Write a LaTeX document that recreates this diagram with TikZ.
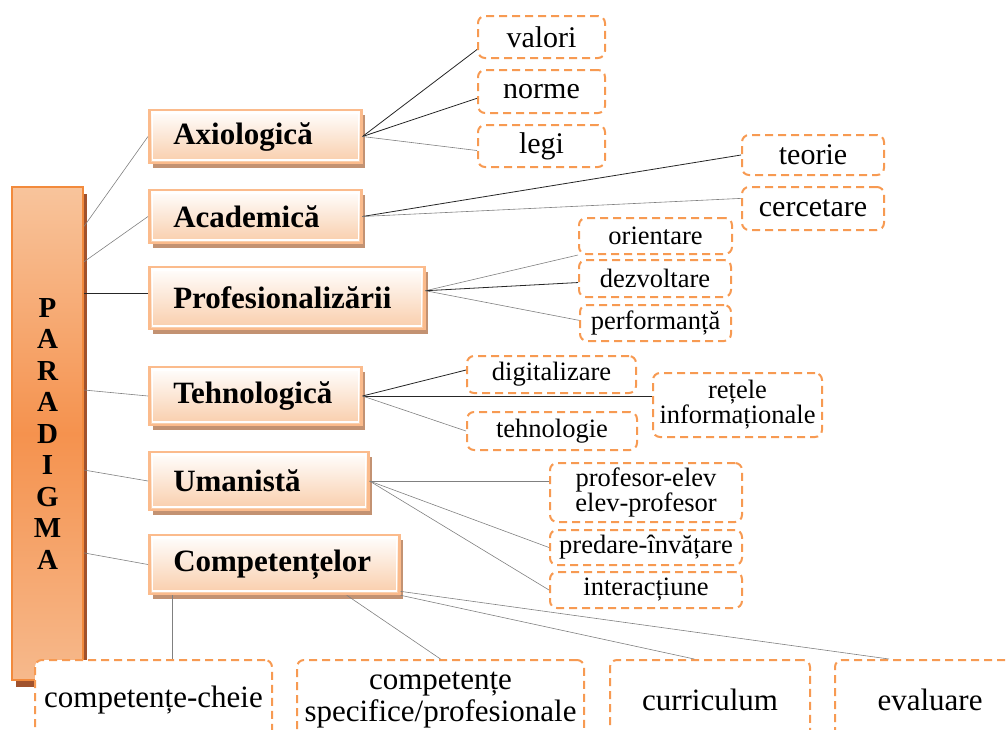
\documentclass[tikz,border=0pt]{standalone}
\usepackage{fontspec}
\setmainfont{Liberation Serif}
\usetikzlibrary{shadows, calc}
\definecolor{barline}{HTML}{F28A3C}
\definecolor{bartop}{HTML}{F8C49C}
\definecolor{barmid}{HTML}{F5924E}
\definecolor{barbot}{HTML}{F6B98C}
\definecolor{barshade}{HTML}{A0522D}
\definecolor{catline}{HTML}{FBBB8C}
\definecolor{catfill}{HTML}{F9CDAA}
\definecolor{catshade}{HTML}{C39272}
\definecolor{leafline}{HTML}{F79A52}

\begin{document}
\begin{tikzpicture}[x=1pt, y=-1pt,
    bar/.style={draw=barline, line width=2pt, top color=bartop, bottom color=barbot, middle color=barmid,
        minimum width=71pt, minimum height=493pt, inner sep=0pt, align=center,
        font=\fontsize{29}{31.5}\selectfont\bfseries,
        drop shadow={shadow xshift=4pt, shadow yshift=-7pt, fill=barshade, opacity=1}},
    cat/.style={anchor=west, draw=catline, line width=2.5pt, top color=white, bottom color=catfill,
        inner xsep=24pt, inner ysep=0pt, align=left, font=\fontsize{31}{32}\selectfont\bfseries,
        path picture={\draw[white, line width=1.3pt]
            ([shift={(3pt,-3pt)}]path picture bounding box.north west) rectangle
            ([shift={(-3pt,3pt)}]path picture bounding box.south east);},
        drop shadow={shadow xshift=4pt, shadow yshift=-5pt, fill=catshade, opacity=1}},
    leaf/.style={draw=leafline, fill=white, line width=2pt, dash pattern=on 8pt off 5pt,
        rounded corners=7pt, inner sep=0pt, align=center, font=\fontsize{26.5}{25}\selectfont},
    leafbig/.style={font=\fontsize{30}{32}\selectfont},
    leaffoot/.style={font=\fontsize{31}{32}\selectfont},
    link/.style={draw=black!85, line width=0.8pt},
    faint/.style={draw=black!50, line width=0.6pt}]
    \useasboundingbox (0,0) rectangle (1006,729);
    \clip (0,0) rectangle (1006,729);

    \node[bar] (paradigma) at (47.5,433.5) {P\\A\\R\\A\\D\\I\\G\\M\\A};

    \node[cat, text width=164pt, minimum height=53pt] (axio) at (148,136.5) {Axiologică};
    \node[cat, text width=164pt, minimum height=53pt] (acad) at (148,216.5) {Academică};
    \node[cat, text width=227pt, minimum height=62pt] (prof) at (148,298) {Profesionalizării};
    \node[cat, text width=164pt, minimum height=58pt] (tehno) at (148,396) {Tehnologică};
    \node[cat, text width=171pt, minimum height=58pt] (uman) at (148,481) {Umanistă};
    \node[cat, text width=202pt, minimum height=59pt] (compet) at (148,564.5) {Competențelor};

    \node[leaf, leafbig, minimum width=127pt, minimum height=42pt] (valori) at (541.5,37) {valori};
    \node[leaf, leafbig, minimum width=127pt, minimum height=43pt] (norme) at (541.5,91.5) {norme};
    \node[leaf, leafbig, minimum width=127pt, minimum height=42pt] (legi) at (541.5,146) {legi};
    \node[leaf, leafbig, minimum width=142pt, minimum height=40pt] (teorie) at (813,155) {teorie};
    \node[leaf, leafbig, minimum width=142pt, minimum height=43pt] (cercetare) at (813,208.5) {cercetare};
    \node[leaf, minimum width=153pt, minimum height=36pt] (orientare) at (655.5,236) {orientare};
    \node[leaf, minimum width=152pt, minimum height=37pt] (dezvoltare) at (655,278.5) {dezvoltare};
    \node[leaf, minimum width=151pt, minimum height=36pt] (performanta) at (655.5,323) {performanță};
    \node[leaf, minimum width=169pt, minimum height=37pt] (digital) at (551.5,374.5) {digitalizare};
    \node[leaf, minimum width=169pt, minimum height=64pt] (retele) at (737.5,405) {rețele\\informaționale};
    \node[leaf, minimum width=170pt, minimum height=38pt] (tehnologie) at (552,431) {tehnologie};
    \node[leaf, minimum width=192pt, minimum height=59pt] (profelev) at (646,492.5) {profesor-elev\\elev-profesor};
    \node[leaf, minimum width=192pt, minimum height=35pt] (predare) at (646,547.5) {predare-învățare};
    \node[leaf, minimum width=192pt, minimum height=36pt] (interact) at (646,590) {interacțiune};
    \node[leaf, leaffoot, minimum width=237pt, minimum height=80pt] (cheie) at (153.5,700) {competențe-cheie};
    \node[leaf, leaffoot, minimum width=287pt, minimum height=80pt] (specifice) at (440.5,700) {competențe\\specifice/profesionale};
    \node[leaf, leaffoot, minimum width=200pt, minimum height=80pt] (curriculum) at (710,700) {curriculum};
    \node[leaf, leaffoot, minimum width=190pt, minimum height=80pt] (evaluare) at (930,700) {evaluare};

    \draw[faint] (paradigma.80) -- (axio.west);
    \draw[faint] (paradigma.78) -- (acad.west);
    \draw[link] (prof.178 -| paradigma.east) -- (prof.178);
    \draw[faint] (paradigma.50) -- (tehno.west);
    \draw[faint] (paradigma.-45) -- (uman.west);
    \draw[faint] (paradigma.-73) -- (compet.west);

    \draw[link] (axio.east) -- (valori.191);
    \draw[link] (axio.east) -- (norme.186);
    \draw[faint] (axio.east) -- (legi.184);
    \draw[link] (acad.east) -- (teorie.west);
    \draw[faint] (acad.east) -- (cercetare.172);
    \draw[faint] (prof.3) -- (orientare.south west);
    \draw[link] (prof.3) -- (dezvoltare.183);
    \draw[faint] (prof.3) -- (performanta.178);
    \draw[link] (tehno.east) -- (digital.177);
    \draw[link] (tehno.east) -- (tehno.east -| retele.west);
    \draw[faint] (tehno.east) -- (tehnologie.west);
    \draw[faint] (uman.east) -- (uman.east -| profelev.west);
    \draw[faint] (uman.east) -- (predare.west);
    \draw[faint] (uman.east) -- (interact.west);

    \coordinate (cheiejoin) at ($(compet.south west)+(24,0)$);
    \draw[faint] (cheiejoin) -- (cheiejoin |- cheie.north);
    \draw[faint] (compet.-23) -- (specifice.north);
    \draw[faint] (compet.south east) -- (curriculum.111);
    \draw[faint] (compet.-12) -- (evaluare.135);
\end{tikzpicture}
\end{document}
